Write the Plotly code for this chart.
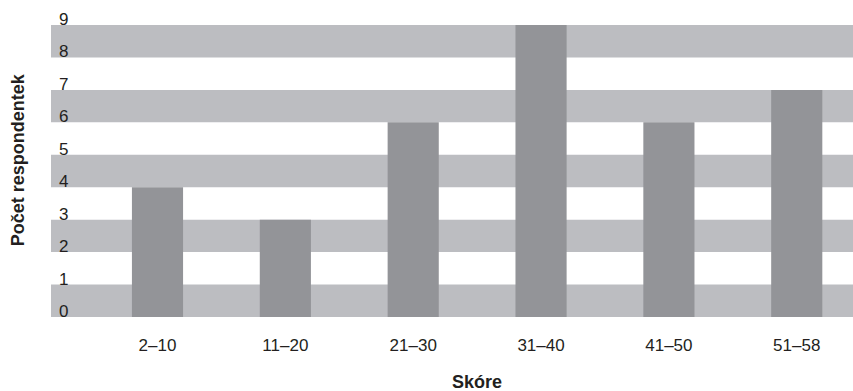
import plotly.graph_objects as go

# Score groups and number of respondents in each
categories = ["2–10", "11–20", "21–30", "31–40", "41–50", "51–58"]
counts = [4, 3, 6, 9, 6, 7]
y_ticks = list(range(0, 10))

BAND = "#bcbdc1"
BAR = "#939498"
TEXT = "#231f20"
FONT = "Liberation Sans, Arial, sans-serif"

fig = go.Figure()
fig.add_trace(go.Bar(
    x=list(range(len(categories))),
    y=counts,
    width=0.4,
    marker=dict(color=BAR, line=dict(width=0)),
    hoverinfo="skip",
))

# Alternating horizontal bands behind the bars
for lo in range(0, 9, 2):
    fig.add_shape(type="rect", xref="paper", yref="y", x0=0, x1=1, y0=lo, y1=lo + 1,
                  fillcolor=BAND, line=dict(width=0), layer="below")

fig.add_annotation(text="<b>Počet respondentek</b>", xref="paper", yref="paper",
                   x=0, y=0.537, xshift=-33, xanchor="center", yanchor="middle",
                   textangle=-90, showarrow=False,
                   font=dict(family=FONT, size=18, color=TEXT))
fig.add_annotation(text="<b>Skóre</b>", xref="x", yref="paper",
                   x=2.5, y=-0.2235, xanchor="center", yanchor="middle",
                   showarrow=False, font=dict(family=FONT, size=18, color=TEXT))

fig.update_layout(
    width=853, height=391,
    margin=dict(l=51, r=0, t=25, b=74.3),
    paper_bgcolor="white", plot_bgcolor="white",
    showlegend=False,
    font=dict(family=FONT, size=17, color=TEXT),
    xaxis=dict(
        range=[-0.833, 5.44],
        tickmode="array", tickvals=list(range(len(categories))), ticktext=categories,
        showgrid=False, zeroline=False, showline=False,
        ticks="", ticklabelstandoff=16,
        tickfont=dict(family=FONT, size=17, color=TEXT),
        fixedrange=True,
    ),
    yaxis=dict(
        range=[0, 9],
        tickmode="array", tickvals=y_ticks,
        showgrid=False, zeroline=False, showline=False,
        ticks="", ticklabelposition="inside",
        ticklabelstandoff=5, ticklabelshift=-6, ticklabeloverflow="allow",
        tickfont=dict(family=FONT, size=17, color=TEXT),
        fixedrange=True,
    ),
)

fig.write_html("out.html")
